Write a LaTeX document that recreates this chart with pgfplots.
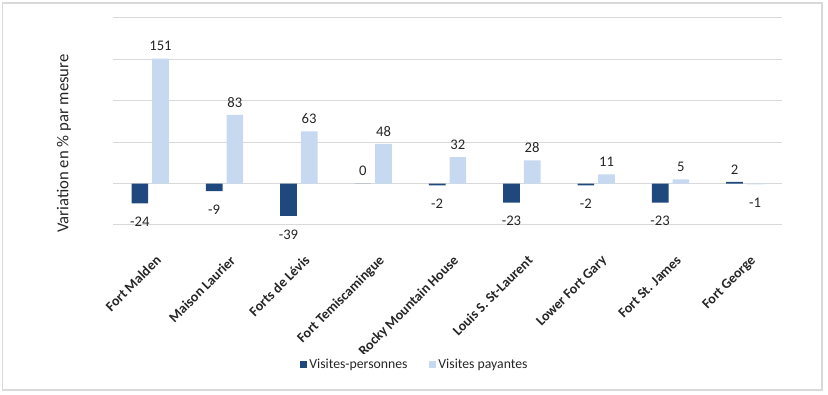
\documentclass[border=0pt]{standalone}
\usepackage{pgfplots}
\pgfplotsset{compat=1.18}
\usepackage{fontspec}
\setmainfont{Carlito}
\definecolor{darkb}{HTML}{1F497D}
\definecolor{lightb}{HTML}{C6D9F1}
\definecolor{gridc}{HTML}{D9D9D9}
\begin{document}
\begin{tikzpicture}[x=0.75pt,y=0.75pt]
\path (0,0) rectangle (828,395);
\draw[gridc, line width=1pt] (2.5,5) rectangle (822,392);
\node[rotate=90, font=\fontsize{12.5}{14}\selectfont, text=black!85] at (64,251.5) {Variation en \% par mesure};
\begin{axis}[
  at={(84.75pt,127.5pt)}, anchor=south west,
  scale only axis, width=501.75pt, height=155.25pt,
  xmin=-0.5, xmax=8.5, ymin=-50, ymax=200,
  xtick={0,...,8},
  xticklabels={Fort Malden, Maison Laurier, Forts de Lévis, Fort Temiscamingue, Rocky Mountain House, Louis S. St-Laurent, Lower Fort Gary, Fort St. James, Fort George},
  xticklabel style={rotate=45, anchor=north east, font=\bfseries\fontsize{10.5}{12}\selectfont, text=black!85, inner sep=1pt, yshift=-17pt, xshift=-12pt},
  ytick={-50,0,50,100,150,200}, yticklabels={},
  ymajorgrids, grid style={gridc, line width=0.75pt},
  axis line style={draw=none}, major tick length=0pt,
  ybar=3pt, bar width=12.5pt,
  visualization depends on={y \as \rawy},
  nodes near coords,
  /pgf/number format/assume math mode=true,
  nodes near coords style={font=\fontsize{11}{12}\selectfont, text=black!85, inner sep=5.5pt, yshift={ifthenelse(\rawy<0,-4.5,0)*1pt}},
  legend style={at={(0.4514,-0.676)}, anchor=center, draw=none, legend columns=2, font=\fontsize{10.3}{12}\selectfont, text=black!85, /tikz/every even column/.append style={column sep=14pt}},
  legend image code/.code={\fill[#1] (0pt,-2.6pt) rectangle (5.2pt,2.6pt);},
]
\addplot[fill=darkb, draw=none] coordinates {(0,-24) (1,-9) (2,-39) (3,0) (4,-2) (5,-23) (6,-2) (7,-23) (8,2)};
\addplot[fill=lightb, draw=none] coordinates {(0,151) (1,83) (2,63) (3,48) (4,32) (5,28) (6,11) (7,5) (8,-1)};
\legend{Visites-personnes, Visites payantes}
\end{axis}
\end{tikzpicture}
\end{document}
